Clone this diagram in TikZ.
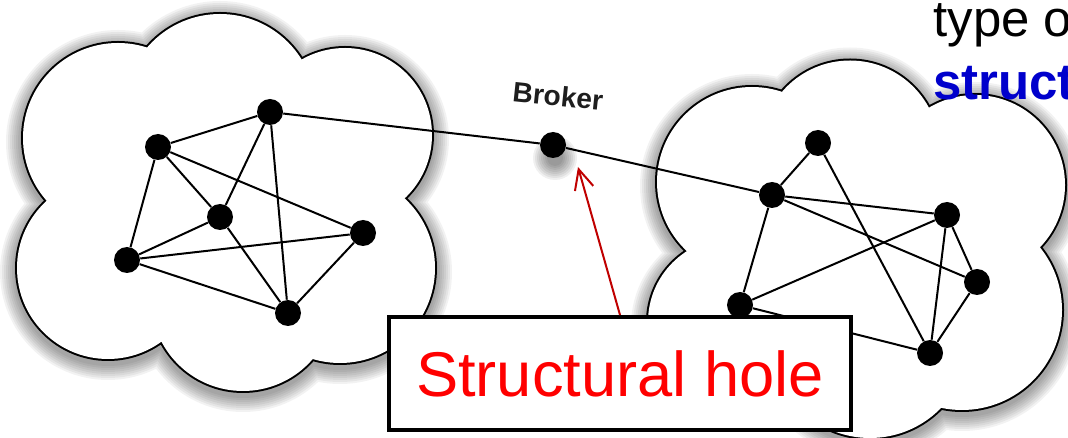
\documentclass[tikz,border=0pt]{standalone}
\usepackage{fontspec}
\setmainfont{Liberation Sans}
\usetikzlibrary{arrows.meta}
\definecolor{sblue}{RGB}{0,0,204}
\definecolor{arrowred}{RGB}{192,0,0}
\definecolor{labelgray}{RGB}{30,30,30}
\def\leftlist{118/138/96, 220/110/97, 345/135/88, 340/268/96, 243/299/93, 108/268/92}
\def\rightlist{752/182/96, 850/150/90.5, 975/185/91, 962/310/101, 870/339/100, 732/322/85}
\begin{document}
\begin{tikzpicture}[x=0.02cm, y=-0.02cm,
  dot/.style={circle, fill=black, inner sep=0pt, minimum size=0.52cm},
  edge/.style={line width=0.04cm, black},
  hole/.style={draw=black, line width=0.08cm, fill=white, minimum width=9.24cm, minimum height=2.26cm, text=red, font=\fontsize{36}{43}\selectfont},
  pointer/.style={draw=arrowred, line width=0.04cm, -{Straight Barb[length=0.4cm, width=0.38cm]}}]
\useasboundingbox (0,0) rectangle (1068,438);
\clip (0,0) rectangle (1068,438);
\fill[white] (0,0) rectangle (1068,438);
% cloud shadows
\foreach \k in {1,...,8}{
  \fill[black, opacity=0.05, yshift=-0.08cm] foreach \cx/\cy/\cr in \leftlist {(\cx,\cy) circle[radius={(\cr+\k*2)*0.02cm}]};
  \fill[black, opacity=0.05, yshift=-0.08cm] foreach \cx/\cy/\cr in \rightlist {(\cx,\cy) circle[radius={(\cr+\k*2)*0.02cm}]};
}
% cloud outlines and fills
\fill[black] foreach \cx/\cy/\cr in \leftlist {(\cx,\cy) circle[radius={(\cr+1)*0.02cm}]};
\fill[white] foreach \cx/\cy/\cr in \leftlist {(\cx,\cy) circle[radius={(\cr-1)*0.02cm}]};
\fill[white] (118,138) -- (220,110) -- (345,135) -- (340,268) -- (243,299) -- (108,268) -- cycle;
\fill[black] foreach \cx/\cy/\cr in \rightlist {(\cx,\cy) circle[radius={(\cr+1)*0.02cm}]};
\fill[white] foreach \cx/\cy/\cr in \rightlist {(\cx,\cy) circle[radius={(\cr-1)*0.02cm}]};
\fill[white] (752,182) -- (850,150) -- (975,185) -- (962,310) -- (870,339) -- (732,322) -- cycle;
% broker shadow
\foreach \k in {0,...,7}{
  \fill[black, opacity=0.06] (555,158) circle[radius={(8+\k*2)*0.02cm}];
}
% nodes
\node[dot] (A) at (270,112) {};
\node[dot] (B) at (158,147) {};
\node[dot] (C) at (220,217) {};
\node[dot] (D) at (363,233) {};
\node[dot] (E) at (127,260) {};
\node[dot] (F) at (288,313) {};
\node[dot] (Br) at (553,145) {};
\node[dot] (G) at (818,143) {};
\node[dot] (H) at (772,195) {};
\node[dot] (I) at (947,215) {};
\node[dot] (J) at (977,282) {};
\node[dot] (K) at (740,305) {};
\node[dot] (L) at (930,353) {};
% edges
\draw[edge] (A) -- (B);
\draw[edge] (A) -- (C);
\draw[edge] (A) -- (F);
\draw[edge] (B) -- (C);
\draw[edge] (B) -- (E);
\draw[edge] (B) -- (D);
\draw[edge] (C) -- (E);
\draw[edge] (C) -- (F);
\draw[edge] (E) -- (D);
\draw[edge] (E) -- (F);
\draw[edge] (D) -- (F);
\draw[edge] (A) -- (Br);
\draw[edge] (Br) -- (H);
\draw[edge] (G) -- (H);
\draw[edge] (G) -- (L);
\draw[edge] (H) -- (I);
\draw[edge] (H) -- (J);
\draw[edge] (H) -- (K);
\draw[edge] (I) -- (K);
\draw[edge] (I) -- (J);
\draw[edge] (I) -- (L);
\draw[edge] (J) -- (L);
\draw[edge] (K) -- (L);
% broker label
\node[rotate=-6, text=labelgray, font=\bfseries\fontsize{16}{19}\selectfont] (brlabel) at (558,96) {Broker};
% structural hole box and pointer
\node[hole] (box) at (620,373.5) {Structural hole};
\coordinate (tip) at (578,167);
\draw[pointer] (box.north) -- (tip);
% top-right text
\node[anchor=base west, inner sep=0pt, font=\fontsize{29}{34}\selectfont] (t1) at (933,37) {type o};
\node[anchor=base west, inner sep=0pt, text=sblue, font=\bfseries\fontsize{29}{34}\selectfont] (t2) at (933,100) {struct};
\end{tikzpicture}
\end{document}
